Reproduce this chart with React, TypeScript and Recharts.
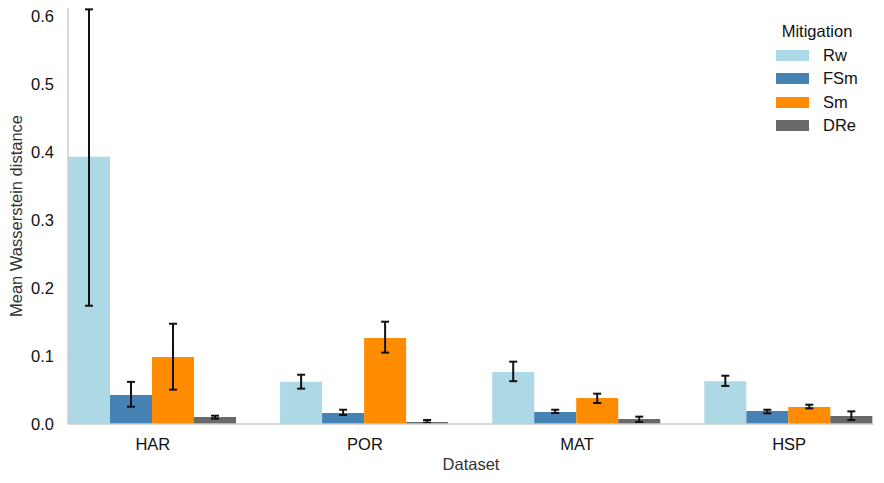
import React from 'react';
import { BarChart, Bar, XAxis, YAxis, ErrorBar, Legend } from 'recharts';

const datasets = ['HAR', 'POR', 'MAT', 'HSP'];
const seriesNames = ['Rw', 'FSm', 'Sm', 'DRe'];
const seriesColors = ['#ADD8E6', '#4682B4', '#FF8C00', '#696969'];

const rwMean = [0.393, 0.062, 0.0765, 0.063];
const rwLow = [0.174, 0.052, 0.063, 0.056];
const rwHigh = [0.61, 0.0725, 0.0917, 0.071];

const fsmMean = [0.0426, 0.0162, 0.0176, 0.019];
const fsmLow = [0.0254, 0.0132, 0.0162, 0.0157];
const fsmHigh = [0.062, 0.021, 0.021, 0.021];

const smMean = [0.0985, 0.1265, 0.0382, 0.025];
const smLow = [0.0505, 0.105, 0.0309, 0.023];
const smHigh = [0.1475, 0.1505, 0.0446, 0.0284];

const dreMean = [0.0103, 0.003, 0.0074, 0.0118];
const dreLow = [0.0078, 0.002, 0.003, 0.0059];
const dreHigh = [0.0122, 0.0059, 0.0108, 0.0186];

const yTicks = [0, 0.1, 0.2, 0.3, 0.4, 0.5, 0.6];
const xPositions = [0, 1, 2, 3];

const means = [rwMean, fsmMean, smMean, dreMean];
const lows = [rwLow, fsmLow, smLow, dreLow];
const highs = [rwHigh, fsmHigh, smHigh, dreHigh];

const data = datasets.map((d, i) => {
  const row: any = { name: d, pos: xPositions[i] };
  seriesNames.forEach((s, k) => {
    row[s] = means[k][i];
    row[s + '_err'] = [means[k][i] - lows[k][i], highs[k][i] - means[k][i]];
  });
  return row;
});

const FONT = '"Liberation Sans", Arial, sans-serif';
const FS = 16.5;

const LegendContent = () => (
  <div style={{ fontFamily: FONT, fontSize: FS, color: '#111' }}>
    <div style={{ textAlign: 'center', marginBottom: 3 }}>Mitigation</div>
    {seriesNames.map((s, k) => (
      <div key={s} style={{ display: 'flex', alignItems: 'center', height: 23.3 }}>
        <div style={{ width: 33, height: 11, background: seriesColors[k], marginRight: 14 }} />
        <span>{s}</span>
      </div>
    ))}
  </div>
);

const YLabel = (props: any) => {
  const vb = props.viewBox || {};
  const x = vb.x + 8;
  const y = vb.y + vb.height / 2;
  return (
    <text x={x} y={y} transform={`rotate(-90 ${x} ${y})`} textAnchor="middle" dominantBaseline="central"
      fontFamily={FONT} fontSize={FS} fill="#333">
      Mean Wasserstein distance
    </text>
  );
};

const XLabel = (props: any) => {
  const vb = props.viewBox || {};
  const x = vb.x + vb.width / 2;
  return (
    <text x={x} y={470} textAnchor="middle" fontFamily={FONT} fontSize={FS} fill="#333">
      Dataset
    </text>
  );
};

export default function App() {
  return (
    <div style={{ position: 'absolute', left: 0, top: 0, background: '#fff' }}>
      <BarChart width={884} height={483} data={data}
        margin={{ top: 8, right: 10, bottom: 29, left: 8 }}
        barGap={0} barCategoryGap="10%">
        <XAxis dataKey="pos" type="number" domain={[-0.4, 3.4]} ticks={xPositions} interval={0}
          allowDataOverflow
          tickFormatter={(v: number) => datasets[v] ?? ''}
          axisLine={{ stroke: '#cccccc', strokeWidth: 1.5 }}
          tickLine={false} tickSize={6} tickMargin={8} height={30}
          tick={{ fontFamily: FONT, fontSize: FS, fill: '#111' }} label={<XLabel />} />
        <YAxis domain={[0, 0.612]} ticks={yTicks} allowDataOverflow width={60}
          axisLine={{ stroke: '#cccccc', strokeWidth: 1.5 }} tickLine={false} tickSize={6} tickMargin={8}
          tickFormatter={(v: number) => v.toFixed(1)}
          tick={{ fontFamily: FONT, fontSize: FS, fill: '#111' }} label={<YLabel />} />
        <Legend layout="vertical" verticalAlign="middle" align="center" content={<LegendContent />}
          wrapperStyle={{ position: 'absolute', left: 776, top: 22, width: 82 }} />
        {seriesNames.map((s, k) => (
          <Bar key={s} dataKey={s} fill={seriesColors[k]} isAnimationActive={false}>
            <ErrorBar dataKey={s + '_err'} width={4} strokeWidth={2} stroke="#111" direction="y" />
          </Bar>
        ))}
      </BarChart>
    </div>
  );
}
